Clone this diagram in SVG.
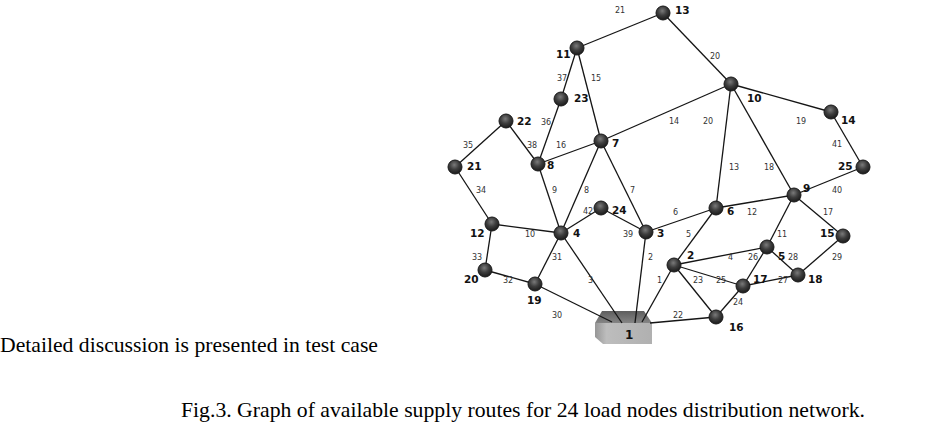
<svg xmlns="http://www.w3.org/2000/svg" width="952" height="431" viewBox="0 0 952 431">
<style>
.e{stroke:#151515;stroke-width:1.3;fill:none}
.el{font-family:"DejaVu Sans",Verdana,sans-serif;font-size:8px;fill:#333}
.n{fill:url(#ball);stroke:#1a1a1a;stroke-width:1}
.nl{font-family:"DejaVu Sans",Verdana,sans-serif;font-size:10.5px;font-weight:bold;fill:#111}
.body{font-family:"Liberation Serif","Times New Roman",serif;font-size:21.7px;fill:#000}
</style>
<defs>
<radialGradient id="ball" cx="45%" cy="35%" r="65%">
<stop offset="0" stop-color="#7a7a7a"/>
<stop offset="0.5" stop-color="#3e3e3e"/>
<stop offset="1" stop-color="#1a1a1a"/>
</radialGradient>
<linearGradient id="topface" x1="0" y1="0" x2="0" y2="1">
<stop offset="0" stop-color="#5e5e5e"/>
<stop offset="1" stop-color="#858585"/>
</linearGradient>
<linearGradient id="frontface" x1="0" y1="0" x2="1" y2="0">
<stop offset="0" stop-color="#969696"/>
<stop offset="0.2" stop-color="#bdbdbd"/>
<stop offset="1" stop-color="#b0b0b0"/>
</linearGradient>
</defs>
<rect width="952" height="431" fill="#fff"/>

<g id="node-1">
<polygon points="602,311 644,311 652,323 595,323" fill="url(#topface)"/>
<polygon points="595,323 652,323 652,344 603,344 595,337" fill="url(#frontface)"/>
<text class="nl" x="625" y="339" style="font-size:12px">1</text>
</g>

<g id="connectors">
<line class="e" x1="577" y1="48" x2="663" y2="13"/>
<line class="e" x1="663" y1="13" x2="731" y2="84"/>
<line class="e" x1="577" y1="48" x2="561" y2="99"/>
<line class="e" x1="577" y1="48" x2="601" y2="141"/>
<line class="e" x1="561" y1="99" x2="538" y2="164"/>
<line class="e" x1="506" y1="121" x2="538" y2="164"/>
<line class="e" x1="455" y1="167" x2="506" y2="121"/>
<line class="e" x1="455" y1="167" x2="492" y2="224"/>
<line class="e" x1="538" y1="164" x2="601" y2="141"/>
<line class="e" x1="601" y1="141" x2="731" y2="84"/>
<line class="e" x1="731" y1="84" x2="716" y2="208"/>
<line class="e" x1="731" y1="84" x2="794" y2="195"/>
<line class="e" x1="731" y1="84" x2="831" y2="112"/>
<line class="e" x1="831" y1="112" x2="863" y2="167"/>
<line class="e" x1="863" y1="167" x2="794" y2="195"/>
<line class="e" x1="538" y1="164" x2="561" y2="233"/>
<line class="e" x1="601" y1="141" x2="561" y2="233"/>
<line class="e" x1="601" y1="141" x2="646" y2="232"/>
<line class="e" x1="561" y1="233" x2="601" y2="208"/>
<line class="e" x1="601" y1="208" x2="646" y2="232"/>
<line class="e" x1="646" y1="232" x2="716" y2="208"/>
<line class="e" x1="716" y1="208" x2="794" y2="195"/>
<line class="e" x1="794" y1="195" x2="843" y2="236"/>
<line class="e" x1="794" y1="195" x2="767" y2="247"/>
<line class="e" x1="716" y1="208" x2="674" y2="265"/>
<line class="e" x1="492" y1="224" x2="561" y2="233"/>
<line class="e" x1="492" y1="224" x2="485" y2="270"/>
<line class="e" x1="485" y1="270" x2="535" y2="284"/>
<line class="e" x1="561" y1="233" x2="535" y2="284"/>
<line class="e" x1="561" y1="233" x2="622" y2="323"/>
<line class="e" x1="535" y1="284" x2="612" y2="322"/>
<line class="e" x1="646" y1="232" x2="635" y2="323"/>
<line class="e" x1="674" y1="265" x2="642" y2="322"/>
<line class="e" x1="650" y1="323" x2="716" y2="317"/>
<line class="e" x1="674" y1="265" x2="767" y2="247"/>
<line class="e" x1="674" y1="265" x2="743" y2="286"/>
<line class="e" x1="674" y1="265" x2="716" y2="317"/>
<line class="e" x1="767" y1="247" x2="743" y2="286"/>
<line class="e" x1="767" y1="247" x2="798" y2="275"/>
<line class="e" x1="743" y1="286" x2="798" y2="275"/>
<line class="e" x1="716" y1="317" x2="743" y2="286"/>
<line class="e" x1="843" y1="236" x2="798" y2="275"/>

<text class="el" x="615" y="13">21</text>
<text class="el" x="710" y="59">20</text>
<text class="el" x="557" y="81">37</text>
<text class="el" x="591" y="81">15</text>
<text class="el" x="541" y="125">36</text>
<text class="el" x="463" y="148">35</text>
<text class="el" x="527" y="148">38</text>
<text class="el" x="556" y="148">16</text>
<text class="el" x="476" y="193">34</text>
<text class="el" x="552" y="193">9</text>
<text class="el" x="584" y="193">8</text>
<text class="el" x="630" y="193">7</text>
<text class="el" x="583" y="214">42</text>
<text class="el" x="669" y="124">14</text>
<text class="el" x="703" y="124">20</text>
<text class="el" x="796" y="124">19</text>
<text class="el" x="832" y="147">41</text>
<text class="el" x="729" y="170">13</text>
<text class="el" x="764" y="170">18</text>
<text class="el" x="832" y="193">40</text>
<text class="el" x="673" y="215">6</text>
<text class="el" x="747" y="215">12</text>
<text class="el" x="823" y="215">17</text>
<text class="el" x="525" y="237">10</text>
<text class="el" x="623" y="237">39</text>
<text class="el" x="686" y="237">5</text>
<text class="el" x="777" y="237">11</text>
<text class="el" x="472" y="260">33</text>
<text class="el" x="552" y="260">31</text>
<text class="el" x="648" y="260">2</text>
<text class="el" x="728" y="260">4</text>
<text class="el" x="748" y="260">26</text>
<text class="el" x="788" y="260">28</text>
<text class="el" x="832" y="260">29</text>
<text class="el" x="503" y="283">32</text>
<text class="el" x="588" y="283">3</text>
<text class="el" x="657" y="283">1</text>
<text class="el" x="693" y="283">23</text>
<text class="el" x="716" y="283">25</text>
<text class="el" x="778" y="283">27</text>
<text class="el" x="733" y="305">24</text>
<text class="el" x="552" y="318">30</text>
<text class="el" x="673" y="318">22</text>
</g>

<g id="node-13"><circle class="n" cx="663" cy="13" r="7"/><text class="nl" x="675" y="14">13</text></g>
<g id="node-11"><circle class="n" cx="577" cy="48" r="7"/><text class="nl" x="556" y="58">11</text></g>
<g id="node-23"><circle class="n" cx="561" cy="99" r="7"/><text class="nl" x="574" y="102">23</text></g>
<g id="node-10"><circle class="n" cx="731" cy="84" r="7"/><text class="nl" x="747" y="102">10</text></g>
<g id="node-22"><circle class="n" cx="506" cy="121" r="7"/><text class="nl" x="517" y="125">22</text></g>
<g id="node-7"><circle class="n" cx="601" cy="141" r="7"/><text class="nl" x="612" y="147">7</text></g>
<g id="node-8"><circle class="n" cx="538" cy="164" r="7"/><text class="nl" x="547" y="169">8</text></g>
<g id="node-21"><circle class="n" cx="455" cy="167" r="7"/><text class="nl" x="467" y="170">21</text></g>
<g id="node-24"><circle class="n" cx="601" cy="208" r="7"/><text class="nl" x="612" y="214">24</text></g>
<g id="node-14"><circle class="n" cx="831" cy="112" r="7"/><text class="nl" x="841" y="124">14</text></g>
<g id="node-25"><circle class="n" cx="863" cy="167" r="7"/><text class="nl" x="838" y="170">25</text></g>
<g id="node-9"><circle class="n" cx="794" cy="195" r="7"/><text class="nl" x="803" y="192">9</text></g>
<g id="node-6"><circle class="n" cx="716" cy="208" r="7"/><text class="nl" x="727" y="215">6</text></g>
<g id="node-12"><circle class="n" cx="492" cy="224" r="7"/><text class="nl" x="470" y="237">12</text></g>
<g id="node-4"><circle class="n" cx="561" cy="233" r="7"/><text class="nl" x="573" y="237">4</text></g>
<g id="node-3"><circle class="n" cx="646" cy="232" r="7"/><text class="nl" x="657" y="237">3</text></g>
<g id="node-20"><circle class="n" cx="485" cy="270" r="7"/><text class="nl" x="464" y="283">20</text></g>
<g id="node-19"><circle class="n" cx="535" cy="284" r="7"/><text class="nl" x="527" y="304">19</text></g>
<g id="node-15"><circle class="n" cx="843" cy="236" r="7"/><text class="nl" x="820" y="237">15</text></g>
<g id="node-5"><circle class="n" cx="767" cy="247" r="7"/><text class="nl" x="778" y="260">5</text></g>
<g id="node-2"><circle class="n" cx="674" cy="265" r="7"/><text class="nl" x="687" y="259">2</text></g>
<g id="node-18"><circle class="n" cx="798" cy="275" r="7"/><text class="nl" x="808" y="283">18</text></g>
<g id="node-17"><circle class="n" cx="743" cy="286" r="7"/><text class="nl" x="753" y="283">17</text></g>
<g id="node-16"><circle class="n" cx="716" cy="317" r="7"/><text class="nl" x="729" y="331">16</text></g>

<text class="body" x="0" y="352" textLength="378" lengthAdjust="spacingAndGlyphs">Detailed discussion is presented in test case</text>
<text class="body" x="181" y="417" textLength="684" lengthAdjust="spacingAndGlyphs">Fig.3. Graph of available supply routes for 24 load nodes distribution network.</text>
</svg>
